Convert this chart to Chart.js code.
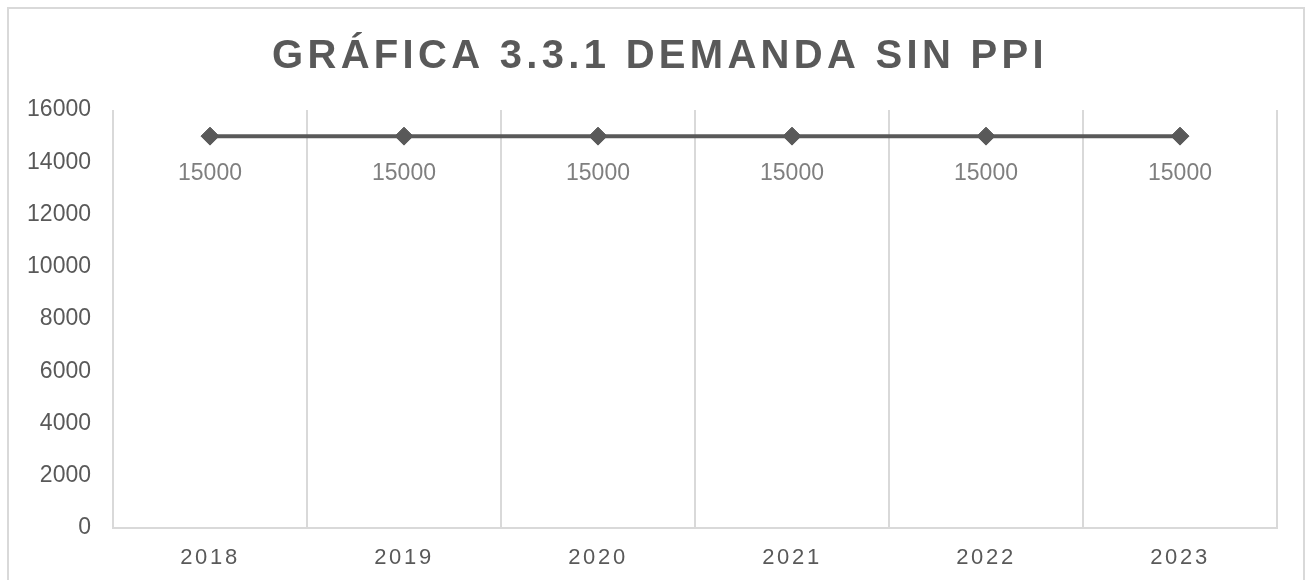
<!DOCTYPE html>
<html>
<head>
<meta charset="utf-8">
<script src="https://cdn.jsdelivr.net/npm/chart.js@4"></script>
<style>
  html, body { margin: 0; padding: 0; background: #fff; }
  canvas { display: block; }
</style>
</head>
<body>
<canvas id="demanda" width="1306" height="580"></canvas>
<script>
// datos
const years = ['2018', '2019', '2020', '2021', '2022', '2023'];
const demanda = [15000, 15000, 15000, 15000, 15000, 15000];
const chartTitle = 'GRÁFICA 3.3.1 DEMANDA SIN PPI';

const gris = '#595959';
const grisClaro = '#d9d9d9';

// eje de categorias con letras espaciadas
class SpacedCategory extends Chart.CategoryScale {
  drawLabels(area) {
    this.ctx.save();
    this.ctx.letterSpacing = '2.7px';
    super.drawLabels(area);
    this.ctx.restore();
  }
}
SpacedCategory.id = 'spacedCategory';
SpacedCategory.defaults = Chart.CategoryScale.defaults;
Chart.register(SpacedCategory);

// marco, titulo y etiquetas de datos
const extras = {
  id: 'extras',
  beforeDraw(chart) {
    const ctx = chart.ctx;
    ctx.save();
    ctx.strokeStyle = grisClaro;
    ctx.lineWidth = 2;
    ctx.strokeRect(8, 8, 1296, 600);
    ctx.restore();
  },
  afterDatasetsDraw(chart) {
    const ctx = chart.ctx;
    const meta = chart.getDatasetMeta(0);
    ctx.save();
    ctx.font = '23px "Liberation Sans", Arial, sans-serif';
    ctx.fillStyle = '#7f7f7f';
    ctx.textAlign = 'center';
    ctx.textBaseline = 'middle';
    meta.data.forEach((pt, i) => {
      ctx.fillText(String(demanda[i]), pt.x, pt.y + 38);
    });
    ctx.restore();
  },
  afterDraw(chart) {
    const ctx = chart.ctx;
    ctx.save();
    ctx.font = 'bold 40px "Liberation Sans", Arial, sans-serif';
    ctx.letterSpacing = '4.3px';
    ctx.fillStyle = gris;
    ctx.textAlign = 'center';
    ctx.textBaseline = 'alphabetic';
    ctx.fillText(chartTitle, 660, 68);
    ctx.restore();
  }
};

new Chart(document.getElementById('demanda'), {
  type: 'line',
  data: {
    labels: years,
    datasets: [{
      data: demanda,
      borderColor: gris,
      borderWidth: 4,
      pointStyle: 'rectRot',
      pointRadius: 9,
      pointBackgroundColor: gris,
      pointBorderColor: gris,
      pointBorderWidth: 1,
      tension: 0
    }]
  },
  options: {
    responsive: false,
    animation: false,
    layout: { padding: { top: 110, right: 29, left: 0, bottom: 0 } },
    plugins: {
      legend: { display: false },
      title: { display: false },
      tooltip: { enabled: false }
    },
    scales: {
      x: {
        type: 'spacedCategory',
        offset: true,
        grid: { offset: true, color: grisClaro, lineWidth: 2, drawTicks: false },
        border: { display: true, color: grisClaro, width: 2 },
        ticks: {
          color: gris,
          padding: 17,
          font: { size: 22, family: '"Liberation Sans", Arial, sans-serif' }
        },
        afterFit(scale) { scale.height = 52; }
      },
      y: {
        min: 0,
        max: 16000,
        grid: { display: false, drawTicks: false },
        border: { display: false },
        ticks: {
          stepSize: 2000,
          color: gris,
          padding: 22,
          font: { size: 23, family: '"Liberation Sans", Arial, sans-serif' },
          callback: (v) => String(v)
        },
        afterFit(scale) { scale.width = 113; }
      }
    }
  },
  plugins: [extras]
});
</script>
</body>
</html>
